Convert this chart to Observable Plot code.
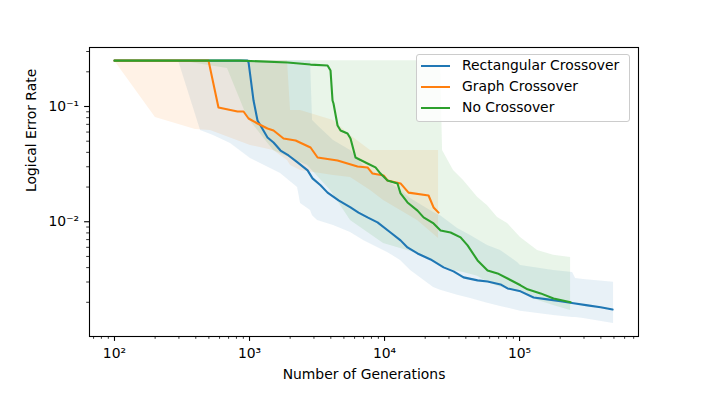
<!DOCTYPE html>
<html>
<head>
<meta charset="utf-8">
<script src="https://cdn.jsdelivr.net/npm/d3@7"></script>
<script src="https://cdn.jsdelivr.net/npm/@observablehq/plot@0.6"></script>
<style>
  body { margin: 0; background: #fff; }
  #wrap { position: relative; width: 709px; height: 394px; font-family: "DejaVu Sans", sans-serif; }
  #legend { position: absolute; left: 416px; top: 54px; width: 214px; height: 68px; box-sizing: border-box;
            border: 1.1px solid #cccccc; border-radius: 3px; background: rgba(255,255,255,0.8); }
  .row { position: absolute; left: 0; height: 21px; line-height: 21px; font-size: 13.9px; color: #000; width: 100%; }
  .swatch { position: absolute; left: 4px; top: 9.5px; width: 29px; height: 2.1px; }
  .lab { position: absolute; left: 45px; white-space: nowrap; }
</style>
</head>
<body>
<div id="wrap"></div>
<script>
// ---- series names & colours
const seriesNames = ["Rectangular Crossover", "Graph Crossover", "No Crossover"];
const seriesColors = ["#1f77b4", "#ff7f0e", "#2ca02c"];

// ---- median lines (generations, logical error rate)
const rectGen = [100, 966, 984, 1071, 1146, 1206, 1359, 1506, 1698, 1945, 2269, 2692, 2929, 3357, 3784, 4565, 5598, 6415, 7482, 8870, 11070, 13140, 14790, 17540, 21930, 27370, 32430, 38460, 48860, 57940, 72280, 81470, 101600, 127000, 161100, 201300, 251200, 319200, 398100, 488600];
const rectErr = [0.25, 0.25, 0.241, 0.1127, 0.0756, 0.0684, 0.0538, 0.0487, 0.0415, 0.0376, 0.0327, 0.0279, 0.0238, 0.0207, 0.0179, 0.0153, 0.0133, 0.0120, 0.0109, 0.00987, 0.00807, 0.00689, 0.00599, 0.00531, 0.00471, 0.00402, 0.00371, 0.00329, 0.00310, 0.00303, 0.00286, 0.00264, 0.00249, 0.00220, 0.00212, 0.00204, 0.00196, 0.00188, 0.00181, 0.00173];

const graphGen = [100, 497, 589, 815, 903, 984, 1146, 1359, 1506, 1786, 2193, 2831, 3192, 4487, 6310, 7482, 8147, 9840, 10520, 13140, 15060, 21180, 23070, 25120];
const graphErr = [0.25, 0.25, 0.098, 0.0905, 0.0905, 0.0787, 0.0712, 0.0644, 0.0619, 0.0528, 0.0507, 0.0441, 0.0361, 0.0340, 0.0302, 0.0296, 0.0262, 0.0252, 0.0228, 0.0215, 0.0179, 0.0169, 0.0133, 0.0120];

const noneGen = [100, 857, 1911, 2831, 3784, 3981, 4120, 4188, 4487, 4722, 5321, 5598, 6095, 7482, 8570, 9333, 10520, 12470, 13140, 14790, 17540, 19450, 23070, 26000, 30830, 36560, 41210, 48860, 57940, 68710, 81470, 101600, 114500, 143200, 178500, 238800];
const noneErr = [0.25, 0.25, 0.241, 0.231, 0.227, 0.205, 0.1127, 0.1062, 0.0684, 0.0619, 0.0583, 0.0528, 0.0361, 0.0320, 0.0296, 0.0262, 0.0228, 0.0215, 0.0176, 0.0147, 0.0125, 0.0109, 0.00967, 0.00841, 0.00807, 0.00731, 0.00623, 0.00462, 0.00378, 0.00356, 0.00322, 0.00281, 0.00259, 0.00239, 0.00216, 0.00200];

// ---- shaded ranges (generations, lower, upper)
const rectBandGen = [298, 434, 541, 723, 1017, 1698, 2269, 2389, 2831, 2929, 3192, 4188, 5598, 6986, 10520, 13140, 15590, 23070, 26000, 34750, 43350, 57940, 72280, 96600, 101600, 178500, 247200, 260000, 297900, 496600];
const rectBandLo = [0.25, 0.0619, 0.0561, 0.0478, 0.0354, 0.0262, 0.0198, 0.0144, 0.0125, 0.0113, 0.01026, 0.00929, 0.00807, 0.00689, 0.00542, 0.00462, 0.00378, 0.00269, 0.00254, 0.00230, 0.00216, 0.00196, 0.00184, 0.00170, 0.00167, 0.00154, 0.00148, 0.00148, 0.00145, 0.00131];
const rectBandHi = [0.25, 0.25, 0.25, 0.25, 0.25, 0.25, 0.25, 0.25, 0.25, 0.0756, 0.0684, 0.0507, 0.0415, 0.0308, 0.0228, 0.0187, 0.0159, 0.0120, 0.0113, 0.00875, 0.00761, 0.00623, 0.00564, 0.00444, 0.00418, 0.00378, 0.00363, 0.00322, 0.00316, 0.00298];

const graphBandGen = [100, 201, 398, 514, 1017, 1506, 1911, 2013, 2389, 4188, 5598, 7870, 9840, 17540, 25120];
const graphBandLo = [0.25, 0.0803, 0.0632, 0.0619, 0.0459, 0.0415, 0.0340, 0.0308, 0.0279, 0.0252, 0.0242, 0.0187, 0.0153, 0.01026, 0.00716];
const graphBandHi = [0.25, 0.25, 0.25, 0.25, 0.25, 0.25, 0.25, 0.0923, 0.0923, 0.0756, 0.0561, 0.0415, 0.0415, 0.0415, 0.0415];

const noneBandGen = [100, 365, 687, 966, 1506, 2692, 3981, 5598, 9840, 17540, 26000, 26900, 32430, 38460, 48860, 57940, 68710, 81470, 101600, 135900, 178500, 238800];
const noneBandLo = [0.25, 0.241, 0.214, 0.0803, 0.0415, 0.0308, 0.0187, 0.01026, 0.00649, 0.00531, 0.00418, 0.00410, 0.00378, 0.00363, 0.00336, 0.00298, 0.00275, 0.00259, 0.00244, 0.00208, 0.00188, 0.00170];
const noneBandHi = [0.25, 0.25, 0.25, 0.25, 0.25, 0.25, 0.25, 0.25, 0.25, 0.25, 0.25, 0.0415, 0.0279, 0.0228, 0.0163, 0.0138, 0.0109, 0.00967, 0.00731, 0.00564, 0.00511, 0.00490];

// ---- ticks & labels
const xTicks = [100, 1000, 10000, 100000];
const xTickLabels = ["10²", "10³", "10⁴", "10⁵"];
const yTicks = [0.01, 0.1];
const yTickLabels = ["10⁻²", "10⁻¹"];
const xLabel = "Number of Generations";
const yLabel = "Logical Error Rate";

const xDomain = [65.3, 760000];
const yDomain = [0.00101, 0.325];

function minorTicks(domain, decades) {
  const out = [];
  for (const e of decades) for (let k = 2; k <= 9; k++) {
    const v = k * Math.pow(10, e);
    if (v >= domain[0] && v <= domain[1]) out.push(v);
  }
  return out;
}
const xMinor = minorTicks(xDomain, [1, 2, 3, 4, 5]);
const yMinor = minorTicks(yDomain, [-3, -2, -1]);

const zipLine = (g, e) => g.map((x, i) => ({x, y: e[i]}));
const zipBand = (g, lo, hi) => g.map((x, i) => ({x, lo: lo[i], hi: hi[i]}));

const lines = [zipLine(rectGen, rectErr), zipLine(graphGen, graphErr), zipLine(noneGen, noneErr)];
const bands = [zipBand(rectBandGen, rectBandLo, rectBandHi), zipBand(graphBandGen, graphBandLo, graphBandHi), zipBand(noneBandGen, noneBandLo, noneBandHi)];

const chart = Plot.plot({
  width: 709, height: 394,
  marginLeft: 89, marginRight: 71, marginTop: 47, marginBottom: 58,
  x: {type: "log", domain: xDomain},
  y: {type: "log", domain: yDomain},
  style: {fontFamily: "DejaVu Sans, sans-serif", fontSize: "13.9px", color: "black", background: "white", overflow: "visible"},
  marks: [
    ...bands.map((b, i) => Plot.areaY(b, {x: "x", y1: "lo", y2: "hi", fill: seriesColors[i], fillOpacity: 0.1})),
    ...lines.map((l, i) => Plot.line(l, {x: "x", y: "y", stroke: seriesColors[i], strokeWidth: 2.08})),
    Plot.frame({stroke: "black", strokeWidth: 1.1}),
    Plot.axisX(xMinor, {tickSize: 2.8, tickFormat: () => "", strokeWidth: 0.8, label: null}),
    Plot.axisX(xTicks, {tickSize: 4.9, tickPadding: 7, strokeWidth: 1.1, tickFormat: d => xTickLabels[xTicks.indexOf(d)], label: null}),
    Plot.axisY(yMinor, {tickSize: 2.8, tickFormat: () => "", strokeWidth: 0.8, label: null}),
    Plot.axisY(yTicks, {tickSize: 4.9, tickPadding: 5.5, strokeWidth: 1.1, tickFormat: d => yTickLabels[yTicks.indexOf(d)], label: null}),
    Plot.text([xLabel], {frameAnchor: "bottom", dy: 42, text: d => d, fill: "black"}),
    Plot.text([yLabel], {frameAnchor: "left", dx: -58, rotate: -90, text: d => d, fill: "black"})
  ]
});

const wrap = document.getElementById("wrap");
wrap.appendChild(chart);

const legend = document.createElement("div");
legend.id = "legend";
seriesNames.forEach((name, i) => {
  const row = document.createElement("div");
  row.className = "row";
  row.style.top = (0.2 + 21 * i) + "px";
  const sw = document.createElement("span");
  sw.className = "swatch";
  sw.style.background = seriesColors[i];
  const lab = document.createElement("span");
  lab.className = "lab";
  lab.textContent = name;
  row.appendChild(sw);
  row.appendChild(lab);
  legend.appendChild(row);
});
wrap.appendChild(legend);
</script>
</body>
</html>
